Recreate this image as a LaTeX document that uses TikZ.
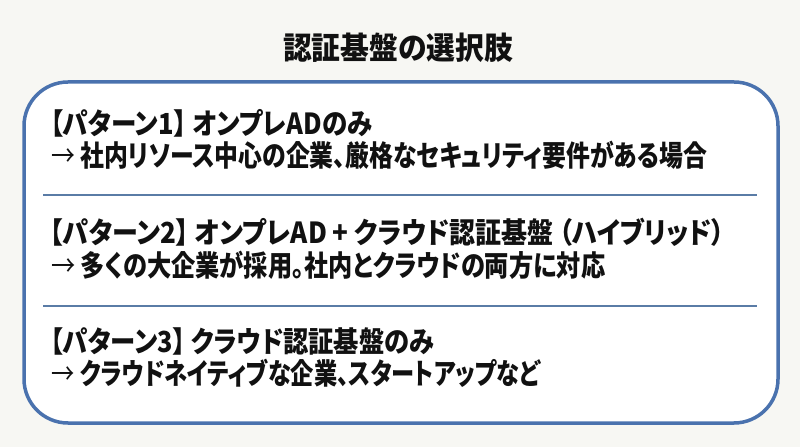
\documentclass[tikz,border=0pt]{standalone}
\usepackage{fontspec}
\usepackage{graphicx}
\setmainfont{Noto Sans CJK JP}[RawFeature=+palt]
\definecolor{bgcol}{HTML}{F7F7F3}
\definecolor{boxline}{HTML}{4A72AE}
\definecolor{sepline}{HTML}{5A7CA6}
\definecolor{txt}{HTML}{111111}
\newcommand{\fitw}[2]{\resizebox{#1}{\height}{#2}}
\newcommand{\arr}{{\mdseries →}}
\tikzset{
  bodytext/.style={anchor=west, inner sep=0pt, text=txt, font=\fontsize{29}{29}\selectfont\bfseries},
  titletext/.style={inner sep=0pt, text=txt, font=\fontsize{31}{31}\selectfont\bfseries},
  panel/.style={draw=boxline, line width=3.5pt, fill=white, rounded corners=44pt},
  sep/.style={draw=sepline, line width=1.2pt}
}
\begin{document}
\begin{tikzpicture}[x=1pt,y=1pt]
\fill[bgcol] (0,0) rectangle (800,447);
\useasboundingbox (0,0) rectangle (800,447);
\node[titletext] (title) at (398,399) {\fitw{230pt}{認証基盤の選択肢}};
\path[panel] (24,24) rectangle (778,365);
\coordinate (s1a) at (43,252); \coordinate (s1b) at (757,252);
\coordinate (s2a) at (43,141); \coordinate (s2b) at (757,141);
\draw[sep] (s1a) -- (s1b);
\draw[sep] (s2a) -- (s2b);
\node[bodytext] (p1) at (50,324) {\fitw{322pt}{【パターン1】 オンプレADのみ}};
\node[bodytext] (d1) at (51,292) {\fitw{656pt}{\arr{} 社内リソース中心の企業、厳格なセキュリティ要件がある場合}};
\node[bodytext] (p2) at (50,215) {\fitw{674pt}{【パターン2】 オンプレAD + クラウド認証基盤 （ハイブリッド）}};
\node[bodytext] (d2) at (51,182) {\fitw{554pt}{\arr{} 多くの大企業が採用。社内とクラウドの両方に対応}};
\node[bodytext] (p3) at (50,106) {\fitw{384pt}{【パターン3】 クラウド認証基盤のみ}};
\node[bodytext] (d3) at (51,74) {\fitw{489pt}{\arr{} クラウドネイティブな企業、スタートアップなど}};
\end{tikzpicture}
\end{document}
